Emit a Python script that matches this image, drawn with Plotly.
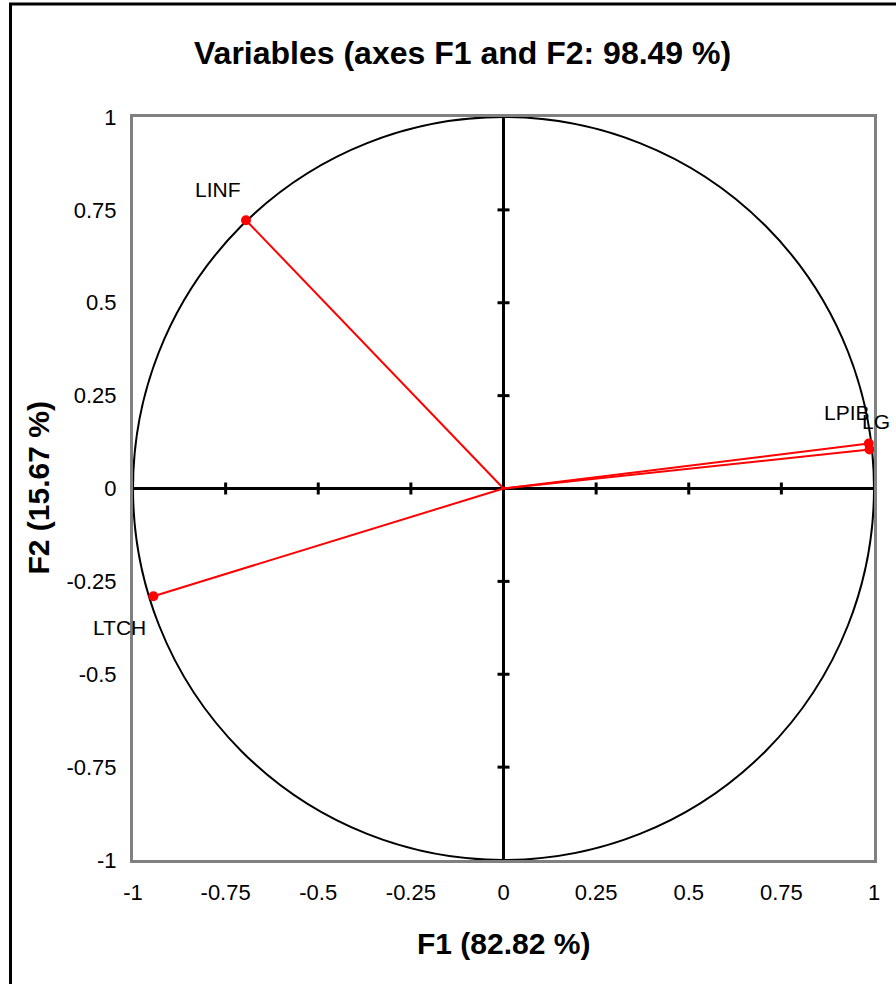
import plotly.graph_objects as go

# Correlations of the variables with the first two factors
variables = ["LINF", "LTCH", "LPIB", "LG"]
f1 = [-0.695, -0.945, 0.986, 0.988]
f2 = [0.722, -0.290, 0.121, 0.105]

tick_vals = [-1, -0.75, -0.5, -0.25, 0, 0.25, 0.5, 0.75, 1]
tick_text = ["-1", "-0.75", "-0.5", "-0.25", "0", "0.25", "0.5", "0.75", "1"]

title_text = "Variables (axes F1 and F2: 98.49 %)"
x_title = "F1 (82.82 %)"
y_title = "F2 (15.67 %)"

# label offsets (pixels) relative to each point
label_dx = [-28, -34, -22, 6]
label_dy = [31, -31, 31, 28]

RED = "#ff0000"
FONT = "Liberation Sans, Arial, sans-serif"

fig = go.Figure()

for name, x, y in zip(variables, f1, f2):
    fig.add_trace(go.Scatter(
        x=[0, x], y=[0, y], mode="lines",
        line=dict(color=RED, width=2), hoverinfo="skip", showlegend=False,
    ))
fig.add_trace(go.Scatter(
    x=f1, y=f2, mode="markers", text=variables,
    marker=dict(color=RED, size=10), showlegend=False,
))

shapes = []
# correlation circle
shapes.append(dict(type="circle", xref="x", yref="y", x0=-1, y0=-1, x1=1, y1=1,
                   line=dict(color="black", width=2), layer="below"))
# small ticks crossing the zero axes
for t in tick_vals:
    if t in (-1, 0, 1):
        continue
    shapes.append(dict(type="line", xref="x", yref="y", ysizemode="pixel", yanchor=0,
                       x0=t, x1=t, y0=-6, y1=6, line=dict(color="black", width=3),
                       layer="below"))
    shapes.append(dict(type="line", xref="x", yref="y", xsizemode="pixel", xanchor=0,
                       y0=t, y1=t, x0=-6, x1=6, line=dict(color="black", width=3),
                       layer="below"))
# chart frame
shapes.append(dict(type="rect", xref="paper", yref="paper",
                   xsizemode="pixel", ysizemode="pixel", xanchor=0, yanchor=1,
                   x0=-122.5, x1=900, y0=-900, y1=113,
                   line=dict(color="black", width=3), fillcolor="rgba(0,0,0,0)"))

annotations = []
for name, x, y, dx, dy in zip(variables, f1, f2, label_dx, label_dy):
    annotations.append(dict(x=x, y=y, xref="x", yref="y", text=name, showarrow=False,
                            xshift=dx, yshift=dy, xanchor="center", yanchor="middle",
                            font=dict(family=FONT, size=21, color="black")))
annotations.append(dict(x=0.5, y=1, xref="paper", yref="paper", text="<b>%s</b>" % title_text,
                        showarrow=False, xshift=-41, yshift=64,
                        xanchor="center", yanchor="middle",
                        font=dict(family=FONT, size=32, color="black")))
annotations.append(dict(x=0.5, y=0, xref="paper", yref="paper", text="<b>%s</b>" % x_title,
                        showarrow=False, yshift=-83, xanchor="center", yanchor="middle",
                        font=dict(family=FONT, size=30, color="black")))
annotations.append(dict(x=0, y=0.5, xref="paper", yref="paper", text="<b>%s</b>" % y_title,
                        showarrow=False, xshift=-95, textangle=-90,
                        xanchor="center", yanchor="middle",
                        font=dict(family=FONT, size=30, color="black")))

axis_common = dict(
    range=[-1, 1], tickvals=tick_vals, ticktext=tick_text, ticks="",
    showgrid=False, zeroline=True, zerolinecolor="black", zerolinewidth=3,
    showline=True, linecolor="#808080", linewidth=3, mirror=True,
    tickfont=dict(family=FONT, size=22, color="black"),
    fixedrange=True,
)

fig.update_layout(
    width=896, height=984,
    margin=dict(l=133, r=22, t=117, b=124, autoexpand=False),
    paper_bgcolor="white", plot_bgcolor="white",
    xaxis=dict(axis_common, ticklabelstandoff=11),
    yaxis=dict(axis_common, ticklabelstandoff=9),
    shapes=shapes, annotations=annotations,
    font=dict(family=FONT),
)

fig.write_html("out.html")
